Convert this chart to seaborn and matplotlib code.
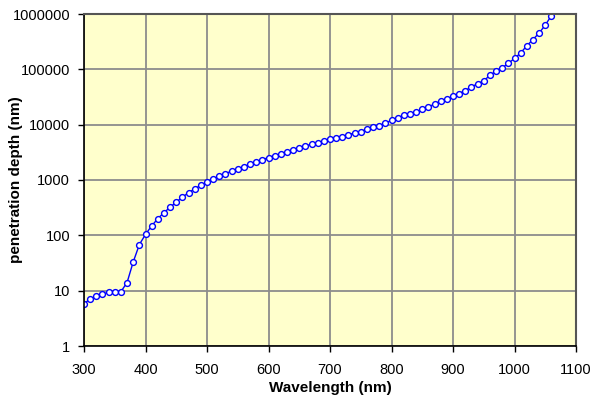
import matplotlib
matplotlib.use("Agg")
import matplotlib.pyplot as plt
import seaborn as sns
import pandas as pd
from matplotlib.ticker import FixedLocator, FixedFormatter, NullLocator

wavelength = list(range(300, 1080, 10))
depth = [
    5.8, 7.1, 7.9, 8.7, 9.3, 9.6, 9.6, 14, 33, 68,
    104, 148, 200, 257, 322, 398, 490, 590, 690, 805,
    915, 1050, 1180, 1310, 1440, 1570, 1740, 1930, 2130, 2340,
    2540, 2760, 2950, 3170, 3450, 3750, 4100, 4450, 4700, 5100,
    5450, 5700, 6100, 6550, 7100, 7500, 8300, 9000, 9650, 10700,
    11900, 13300, 14800, 15900, 17000, 19000, 20700, 23800, 26600, 28900,
    32700, 36400, 41400, 48000, 55000, 62000, 78000, 92700, 106000, 129000,
    157000, 198000, 266000, 346000, 452000, 630000, 935000, 1400000,
]
x_ticks = [300, 400, 500, 600, 700, 800, 900, 1000, 1100]
y_ticks = [1, 10, 100, 1000, 10000, 100000, 1000000]
y_labels = ["1", "10", "100", "1000", "10000", "100000", "1000000"]

df = pd.DataFrame({"Wavelength (nm)": wavelength, "penetration depth (nm)": depth})

sns.set_style("white")
plt.rcParams["font.family"] = ["Liberation Sans", "DejaVu Sans"]
plt.rcParams["text.color"] = "black"
plt.rcParams["axes.labelcolor"] = "black"
plt.rcParams["xtick.color"] = "black"
plt.rcParams["ytick.color"] = "black"

fig = plt.figure(figsize=(5.93, 3.99), dpi=100)
ax = fig.add_axes([84 / 593, 1 - 346 / 399, (576 - 84) / 593, (346 - 14) / 399])
ax.set_facecolor("#FFFFCC")

sns.lineplot(data=df, x="Wavelength (nm)", y="penetration depth (nm)", ax=ax,
             color="#0000FF", linewidth=1.0, marker="o", markersize=4.2,
             markerfacecolor="white", markeredgecolor="#0000FF", markeredgewidth=1.0)

ax.set_yscale("log")
ax.set_xlim(300, 1100)
ax.set_ylim(1, 1000000)
ax.xaxis.set_major_locator(FixedLocator(x_ticks))
ax.yaxis.set_major_locator(FixedLocator(y_ticks))
ax.yaxis.set_major_formatter(FixedFormatter(y_labels))
ax.yaxis.set_minor_locator(NullLocator())
ax.xaxis.set_minor_locator(NullLocator())

ax.grid(True, color="#8C8C8C", linewidth=1.3)
ax.set_axisbelow(True)

for side in ["left", "bottom"]:
    ax.spines[side].set_color("black")
    ax.spines[side].set_linewidth(1.2)
for side in ["top", "right"]:
    ax.spines[side].set_visible(True)
    ax.spines[side].set_color("#555555")
    ax.spines[side].set_linewidth(1.5)

ax.tick_params(axis="both", which="major", direction="out", length=4, width=1,
               color="black", labelcolor="black", labelsize=10.5, left=True, bottom=True)
ax.tick_params(axis="x", pad=8)
ax.tick_params(axis="y", pad=6)
ax.set_xlabel("Wavelength (nm)", fontsize=11, fontweight="bold", labelpad=3, color="black")
ax.set_ylabel("penetration depth (nm)", fontsize=11, fontweight="bold", color="black")
ax.yaxis.set_label_coords(-0.138, 0.5)
ax.yaxis.label.set_va("center")

fig.savefig("out.png", dpi=100)
